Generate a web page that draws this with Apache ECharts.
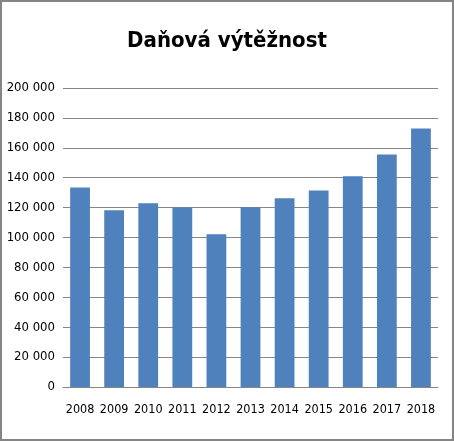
<!DOCTYPE html>
<html>
<head>
<meta charset="utf-8">
<script src="https://cdn.jsdelivr.net/npm/echarts@6/dist/echarts.min.js"></script>
<style>
html, body { margin: 0; padding: 0; background: #fff; }
#chart { width: 450px; height: 437px; border: 2px solid #858585; }
</style>
</head>
<body>
<div id="chart"></div>
<script>
// data
var years = ['2008', '2009', '2010', '2011', '2012', '2013', '2014', '2015', '2016', '2017', '2018'];
var vytez = [133500, 118200, 122900, 120000, 102200, 120200, 126200, 131500, 140900, 155500, 172900];
var titleText = 'Daňová výtěžnost';

var font = '"Liberation Sans Narrow", "DejaVu Sans Condensed", sans-serif';

function fmt(v) {
	return String(v).replace(/\B(?=(\d{3})+(?!\d))/g, ' ');
}

var myChart = echarts.init(document.getElementById('chart'));
myChart.setOption({
	animation: false,
	title: {
		text: titleText,
		left: 'center',
		top: 23,
		textStyle: {
			fontFamily: font,
			fontWeight: 'bold',
			fontSize: 22,
			color: '#000'
		}
	},
	grid: {
		left: 61,
		right: 14,
		top: 86,
		bottom: 52
	},
	xAxis: {
		type: 'category',
		data: years,
		axisTick: {
			show: false
		},
		axisLine: {
			lineStyle: {
				color: '#868686',
				width: 1
			}
		},
		axisLabel: {
			interval: 0,
			color: '#000',
			fontFamily: font,
			fontSize: 12.5,
			margin: 16
		}
	},
	yAxis: {
		type: 'value',
		min: 0,
		max: 200000,
		interval: 20000,
		axisLine: {
			show: false
		},
		axisTick: {
			show: false
		},
		splitLine: {
			lineStyle: {
				color: '#868686',
				width: 1
			}
		},
		axisLabel: {
			color: '#000',
			fontFamily: font,
			fontSize: 13,
			margin: 8,
			formatter: fmt
		}
	},
	series: [{
		type: 'bar',
		data: vytez,
		barWidth: '58%',
		barCategoryGap: '42%',
		itemStyle: {
			color: '#4f81bd'
		}
	}]
});
</script>
</body>
</html>
